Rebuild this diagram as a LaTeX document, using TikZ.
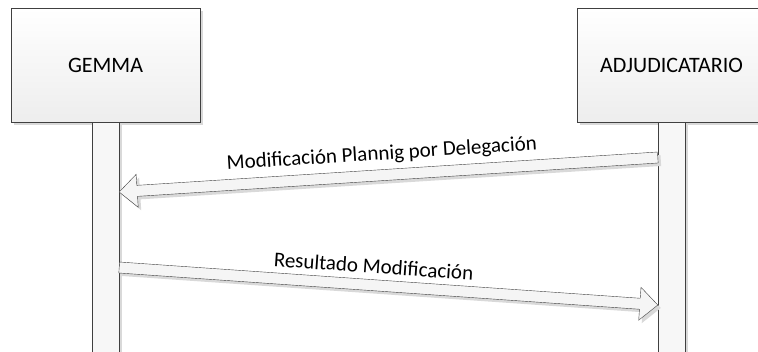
\documentclass[tikz,border=0pt]{standalone}
\usepackage{fontspec}
\setmainfont{Carlito}
\usetikzlibrary{calc,positioning,shadows}

\tikzset{
  lightshadow/.style={drop shadow={shadow xshift=3pt, shadow yshift=-3pt, fill=black!15, opacity=1}},
  actor/.style={draw=black!75, top color=white, bottom color=black!7,
    minimum width=189pt, minimum height=114pt, inner sep=0pt,
    font=\fontsize{22}{26}\selectfont, lightshadow},
  lifeline/.style={draw=black!75, fill=black!3, minimum width=27pt,
    minimum height=240pt, anchor=north, inner sep=0pt, lightshadow},
  msg/.style={draw=black!75, fill=black!4, line join=miter, lightshadow},
  msglabel/.style={sloped, above=11.5pt, inner sep=0pt}
}

% block arrow from tail #2 to tip #3
\newcommand\blockarrow[3][]{%
  \coordinate (hb) at ($(#3)!18pt!(#2)$);
  \draw[msg,#1] ($(#2)!5.5pt!90:(#3)$) -- ($(hb)!5.5pt!90:(#3)$)
    -- ($(hb)!16.5pt!90:(#3)$) -- (#3) -- ($(hb)!16.5pt!-90:(#3)$)
    -- ($(hb)!5.5pt!-90:(#3)$) -- ($(#2)!5.5pt!-90:(#3)$) -- cycle;}

\begin{document}
\begin{tikzpicture}[x=1pt, y=-1pt, font=\fontsize{21}{25}\selectfont]
  \useasboundingbox (0,0) rectangle (758,351);
  \clip (0,0) rectangle (758,351);

  % actors
  \node[actor] (g) at (105.5,65) {GEMMA};
  \node[actor] (aj) at (671.5,65) {ADJUDICATARIO};

  % lifelines
  \node[lifeline] (gl) at (g.south) {};
  \node[lifeline] (ajl) at (aj.south) {};

  % messages
  \coordinate (m1tail) at (ajl.west |- 0,157.5);
  \coordinate (m1tip) at (gl.east |- 0,192);
  \coordinate (m2tail) at (gl.east |- 0,267.5);
  \coordinate (m2tip) at (ajl.west |- 0,305);

  \blockarrow{m1tail}{m1tip}
  \blockarrow{m2tail}{m2tip}

  \path (m1tip) -- node[msglabel, pos=0.49] {Modificación Plannig por Delegación} (m1tail);
  \path (m2tail) -- node[msglabel, pos=0.47] {Resultado Modificación} (m2tip);
\end{tikzpicture}
\end{document}
